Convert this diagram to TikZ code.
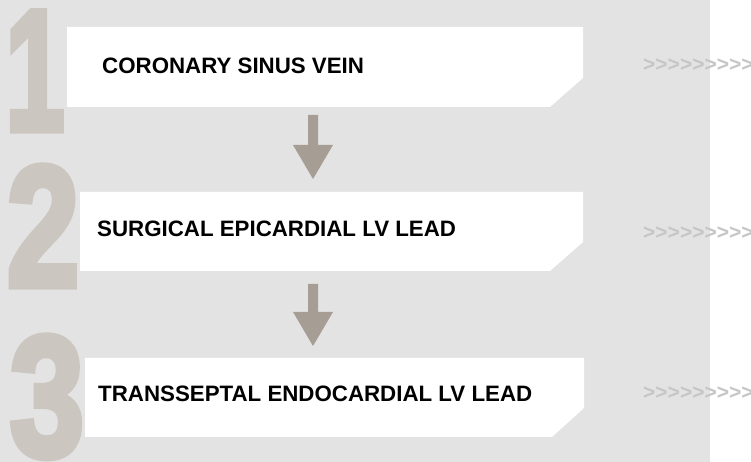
\documentclass[tikz,border=0pt]{standalone}
\usepackage{fontspec}
\setmainfont{Liberation Sans}
\definecolor{bggray}{HTML}{E3E3E3}
\definecolor{digitc}{HTML}{CCC6C0}
\definecolor{arrowc}{HTML}{A69D94}
\definecolor{chevc}{HTML}{C6C6C6}
\newcommand\heavytext[1]{\special{pdf:literal direct 2 Tr 7 w 0 j}#1\special{pdf:literal direct 0 Tr}}
\newcommand\onechev{\mbox{>}}
\newcommand\chevrow{\onechev\onechev\onechev\onechev\onechev\onechev\onechev\onechev\onechev}
\tikzset{
  digit/.style={inner sep=0pt, text=digitc, font=\fontsize{172}{172}\selectfont\bfseries, anchor=base},
  label/.style={inner sep=0pt, anchor=west, font=\fontsize{22.3}{22.3}\selectfont\bfseries, text=black},
  chev/.style={inner sep=0pt, anchor=west, font=\fontsize{21}{21}\selectfont\bfseries, text=chevc},
  stepshape/.style={fill=white, draw=none},
  downarrow/.style={fill=arrowc, draw=none}
}
\begin{document}
\begin{tikzpicture}[x=1pt,y=1pt]
\useasboundingbox (0,0) rectangle (751,462);
\fill[white] (0,0) rectangle (751,462);
\fill[bggray] (0,0) rectangle (710,462);
% digits
\node[digit, xscale=0.62] (d1) at (35,332) {\heavytext{1}};
\node[digit, xscale=0.76] (d2) at (43,176) {\heavytext{2}};
\node[digit, xscale=0.78] (d3) at (47,6) {\heavytext{3}};
% boxes
\path[stepshape] (67,435) -- (583,435) -- (583,384) -- (550,355) -- (67,355) -- cycle;
\path[stepshape] (80,270) -- (583,270) -- (583,220) -- (550,191) -- (80,191) -- cycle;
\path[stepshape] (85,104) -- (584,104) -- (584,54) -- (552,25) -- (85,25) -- cycle;
% labels
\node[label] (t1) at (102,396.5) {CORONARY SINUS VEIN};
\node[label] (t2) at (97,233.5) {SURGICAL EPICARDIAL LV LEAD};
\node[label] (t3) at (98,68.5) {TRANSSEPTAL ENDOCARDIAL LV LEAD};
% chevrons
\node[chev] (c1) at (643,397) {\chevrow};
\node[chev] (c2) at (643,229) {\chevrow};
\node[chev] (c3) at (643,69) {\chevrow};
% arrows
\fill[downarrow] (308,347) -- (318,347) -- (318,317) -- (333,317) -- (313,283) -- (293,317) -- (308,317) -- cycle;
\fill[downarrow] (308,178) -- (318,178) -- (318,150) -- (333,150) -- (313,116) -- (293,150) -- (308,150) -- cycle;
\end{tikzpicture}
\end{document}
